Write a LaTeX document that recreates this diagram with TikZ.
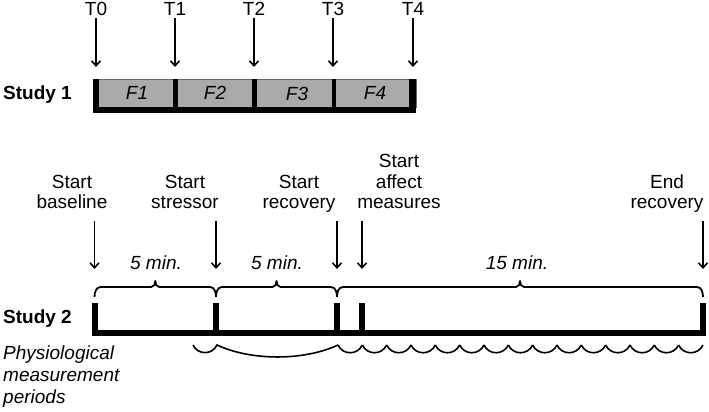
\documentclass[tikz,border=0pt]{standalone}
\usepackage{fontspec}
\setmainfont{Liberation Sans}
\usetikzlibrary{arrows.meta}
\definecolor{boxgray}{RGB}{170,170,170}
\tikzset{
  lbl/.style={inner sep=0pt, anchor=base},
  stack/.style={inner sep=0pt, align=center, anchor=south, text depth=0pt},
  arr/.style={line width=1.6pt, -{Straight Barb[length=5pt,width=9pt]}},
  brc/.style={line width=1.8pt, line join=round},
  wave/.style={line width=1.6pt},
  itl/.style={lbl, font=\fontsize{19}{21}\selectfont\itshape},
  bld/.style={lbl, anchor=base west, font=\fontsize{19}{21}\selectfont\bfseries},
}
\begin{document}
\begin{tikzpicture}[x=1pt,y=-1pt,font=\fontsize{19}{20.5}\selectfont]
\useasboundingbox (0,0) rectangle (709,412);
% ---------- Study 1 ----------
\node[bld] (st1) at (3,99) {Study 1};
\fill[boxgray, draw=gray!80!black, line width=0.5pt] (93,79) rectangle (416,107);
\foreach \a/\b in {93/99,173/178,252/257,332/336,409/416}
  \fill[black] (\a,79) rectangle (\b,113);
\fill[black] (93,107) rectangle (416,113);
\node[itl] (f1) at (137,99) {F1};
\node[itl] (f2) at (215,99) {F2};
\node[itl] (f3) at (297,100) {F3};
\node[itl] (f4) at (375,99) {F4};
\foreach \i/\x in {0/96,1/175,2/254,3/333,4/413}{
  \node[lbl] (T\i) at (\x,16) {T\i};
  \coordinate (ta\i) at (\x,18);
  \coordinate (tb\i) at (\x,67);
  \draw[arr] (ta\i) -- (tb\i);
}
% ---------- Study 2 ----------
\node[bld] (st2) at (3,323) {Study 2};
\node[stack] (s1) at (72,209) {Start\\baseline};
\node[stack] (s2) at (185,209) {Start\\stressor};
\node[stack] (s3) at (299,209) {Start\\recovery};
\node[stack] (s4) at (399,209) {Start\\affect\\measures};
\node[stack] (s5) at (667,209) {End\\recovery};
\foreach \i/\x in {1/94.5,2/216,3/337,4/362,5/703}{
  \coordinate (ba\i) at (\x,221);
  \coordinate (bb\i) at (\x,269);
  \draw[arr] (ba\i) -- (bb\i);
}
% braces
\foreach \a/\b in {94.5/216,216/337,337/703}{
  \pgfmathsetmacro{\m}{(\a+\b)/2}
  \draw[brc] (\a,297) to[out=90,in=180] (\a+6,287) -- (\m-4,287)
    to[out=0,in=-90] (\m,281) to[out=-90,in=180] (\m+4,287)
    -- (\b-6,287) to[out=0,in=90] (\b,297);
}
\node[itl] (m1) at (156,269) {5 min.};
\node[itl] (m2) at (277,269) {5 min.};
\node[itl] (m3) at (517,269) {15 min.};
% bar
\foreach \a/\b in {92/98,213/219,334/340,359/365,700/706}
  \fill[black] (\a,303) rectangle (\b,336);
\fill[black] (92,330) rectangle (706,336);
% physiological periods
\node[inner sep=0pt, align=left, anchor=south west, text depth=0pt,
      font=\fontsize{19}{22}\selectfont\itshape] (phys) at (3,404)
      {Physiological\\measurement\\periods};
\coordinate (w0) at (193,345);
\coordinate (w1) at (217,345);
\coordinate (w2) at (338,345);
\draw[wave] (w0) to[out=-65,in=-115,looseness=1.2] (w1)
  to[out=-25,in=-155,looseness=0.8] (w2);
\foreach \k in {0,...,14}{
  \pgfmathsetmacro{\xa}{338+\k*24.33}
  \pgfmathsetmacro{\xb}{338+(\k+1)*24.33}
  \draw[wave] (\xa,345) to[out=-65,in=-115,looseness=1.2] (\xb,345);
}
\end{tikzpicture}
\end{document}
